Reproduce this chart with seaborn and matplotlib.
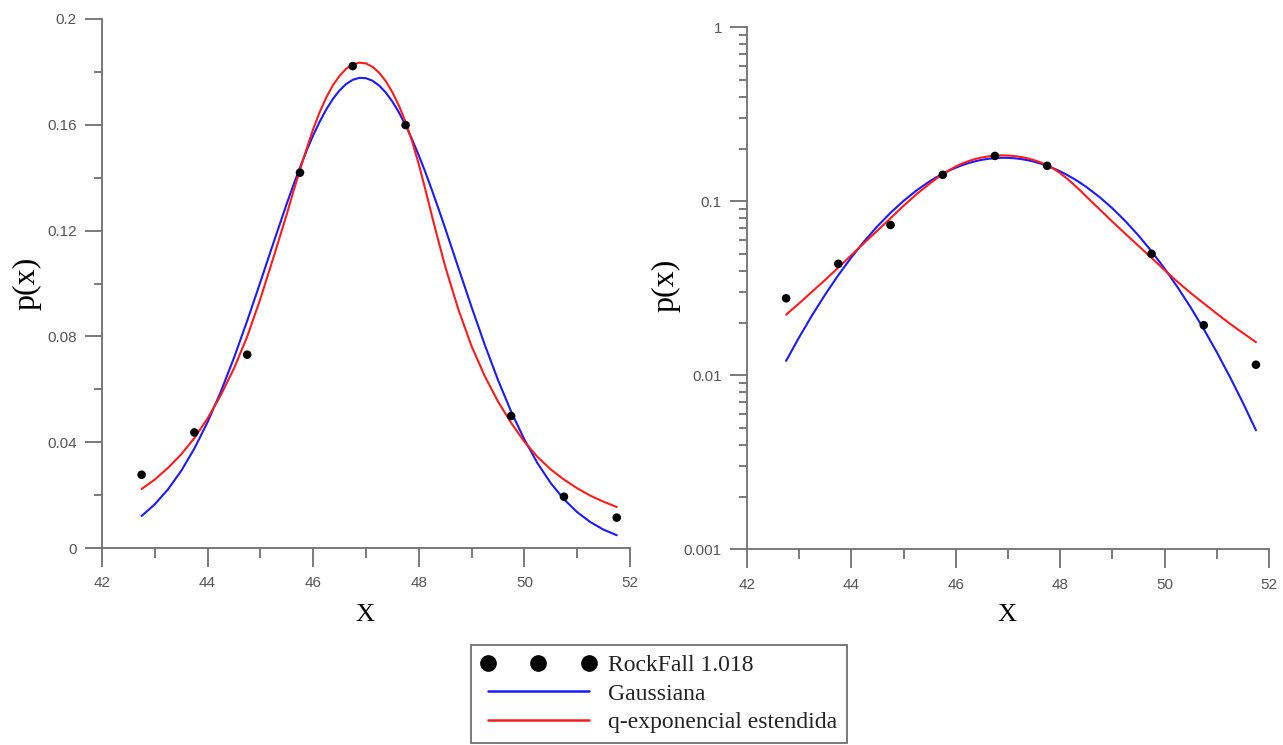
import matplotlib
matplotlib.use("Agg")
import matplotlib.pyplot as plt
from matplotlib.lines import Line2D
from matplotlib.ticker import FixedLocator, FixedFormatter, NullFormatter
import pandas as pd
import seaborn as sns

# Measured distribution (RockFall 1.018)
x_data = [42.75, 43.75, 44.75, 45.75, 46.75, 47.75, 49.75, 50.75, 51.75]
p_data = [0.0277, 0.0437, 0.0731, 0.1419, 0.1822, 0.1599, 0.0499, 0.0194, 0.0115]

# Fitted curves, sampled more densely around the peak
x_fit = [42.75, 43.00, 43.25, 43.50, 43.75, 44.00, 44.25, 44.50, 44.75,
         45.00, 45.25, 45.50, 45.625, 45.75, 45.875, 46.00, 46.125, 46.25,
         46.375, 46.50, 46.625, 46.75, 46.875, 47.00, 47.125, 47.25, 47.375,
         47.50, 47.625, 47.75, 47.875, 48.00, 48.125, 48.25, 48.375, 48.50,
         48.75, 49.00, 49.25, 49.50, 49.75, 50.00, 50.25, 50.50, 50.75,
         51.00, 51.25, 51.50, 51.75]
p_gauss = [0.01210, 0.01654, 0.02218, 0.02916, 0.03762, 0.04760, 0.05908,
           0.07192, 0.08587, 0.10057, 0.11554, 0.13019, 0.13720, 0.14389,
           0.15019, 0.15600, 0.16125, 0.16588, 0.16982, 0.17302, 0.17542,
           0.17701, 0.17774, 0.17762, 0.17665, 0.17483, 0.17220, 0.16879,
           0.16465, 0.15984, 0.15442, 0.14847, 0.14206, 0.13527, 0.12818,
           0.12089, 0.10596, 0.09110, 0.07683, 0.06355, 0.05157, 0.04104,
           0.03203, 0.02453, 0.01842, 0.01357, 0.00980, 0.00695, 0.00483]
p_qexp = [0.0223, 0.0259, 0.0303, 0.0354, 0.0416, 0.0490, 0.0578, 0.0679,
          0.0799, 0.0942, 0.1100, 0.1262, 0.1348, 0.1430, 0.1509, 0.1584,
          0.1649, 0.1704, 0.1750, 0.1785, 0.1812, 0.1828, 0.1835, 0.1832,
          0.1819, 0.1797, 0.1765, 0.1723, 0.1672, 0.1611, 0.1537, 0.1451,
          0.1355, 0.1255, 0.1159, 0.1065, 0.0902, 0.0763, 0.0650, 0.0554,
          0.0473, 0.0402, 0.0344, 0.0297, 0.0259, 0.0226, 0.0198, 0.0175,
          0.0155]

x_ticks = [42, 44, 46, 48, 50, 52]
x_minor = [43, 45, 47, 49, 51]
lin_ticks = [0, 0.04, 0.08, 0.12, 0.16, 0.2]
lin_minor = [0.02, 0.06, 0.10, 0.14, 0.18]
lin_labels = ["0", "0.04", "0.08", "0.12", "0.16", "0.2"]
log_ticks = [0.001, 0.01, 0.1, 1]
log_labels = ["0.001", "0.01", "0.1", "1"]

label_data = "RockFall 1.018"
label_gauss = "Gaussiana"
label_qexp = "q-exponencial estendida"

BLUE = "#1a1aff"
RED = "#ff1a1a"
AXIS = "#707070"
TEXT = "#555555"
SERIF = ["Liberation Serif", "DejaVu Serif"]

sns.set_theme(style="ticks")
plt.rcParams["font.family"] = ["Liberation Sans", "DejaVu Sans"]

points = pd.DataFrame({"x": x_data, "p": p_data})
curves = pd.DataFrame({"x": x_fit, "gauss": p_gauss, "qexp": p_qexp})

fig = plt.figure(figsize=(12.83, 7.45), dpi=100)
ax_lin = fig.add_axes([0.0795, 0.2644, 0.4115, 0.7101])
ax_log = fig.add_axes([0.5822, 0.2627, 0.4069, 0.7007])


def draw(ax):
    sns.lineplot(data=curves, x="x", y="gauss", ax=ax, color=BLUE,
                 linewidth=1.5, sort=False, estimator=None, legend=False)
    sns.lineplot(data=curves, x="x", y="qexp", ax=ax, color=RED,
                 linewidth=1.5, sort=False, estimator=None, legend=False)
    sns.scatterplot(data=points, x="x", y="p", ax=ax, color="black",
                    s=38, edgecolor="none", legend=False, zorder=5)
    ax.set_xlim(42, 52)
    ax.xaxis.set_major_locator(FixedLocator(x_ticks))
    ax.xaxis.set_minor_locator(FixedLocator(x_minor))
    for side in ("top", "right"):
        ax.spines[side].set_visible(False)
    for side in ("left", "bottom"):
        ax.spines[side].set_color(AXIS)
        ax.spines[side].set_linewidth(1.3)
    ax.tick_params(axis="both", which="both", color=AXIS, width=1.3,
                   labelcolor=TEXT, labelsize=11, direction="out")
    ax.tick_params(axis="y", which="major", length=12, pad=6)
    ax.tick_params(axis="y", which="minor", length=6)
    ax.tick_params(axis="x", which="major", length=13.5, pad=7)
    ax.tick_params(axis="x", which="minor", length=7)
    ax.set_xlabel("X", family=SERIF, fontsize=19, color="black")
    ax.set_ylabel("p(x)", family=SERIF, fontsize=23, color="black")
    ax.set_facecolor("white")


draw(ax_lin)
ax_lin.set_ylim(0, 0.2)
ax_lin.yaxis.set_major_locator(FixedLocator(lin_ticks))
ax_lin.yaxis.set_major_formatter(FixedFormatter(lin_labels))
ax_lin.yaxis.set_minor_locator(FixedLocator(lin_minor))
ax_lin.xaxis.set_label_coords(0.498, -0.105)
ax_lin.yaxis.set_label_coords(-0.114, 0.5)

draw(ax_log)
ax_log.set_yscale("log")
ax_log.set_ylim(0.001, 1)
ax_log.yaxis.set_major_locator(FixedLocator(log_ticks))
ax_log.yaxis.set_major_formatter(FixedFormatter(log_labels))
minor_log = [m * 10.0 ** e for e in (-3, -2, -1) for m in range(2, 10)]
ax_log.yaxis.set_minor_locator(FixedLocator(minor_log))
ax_log.yaxis.set_minor_formatter(NullFormatter())
ax_log.xaxis.set_label_coords(0.4975, -0.105)
ax_log.yaxis.set_label_coords(-0.128, 0.506)

handles = [
    Line2D([], [], linestyle="none", marker="o", markersize=11,
           markerfacecolor="black", markeredgecolor="black"),
    Line2D([], [], color=BLUE, linewidth=1.8),
    Line2D([], [], color=RED, linewidth=1.8),
]
leg = fig.legend(handles, [label_data, label_gauss, label_qexp],
                 loc="upper left", bbox_to_anchor=(471 / 1283, 1 - 645 / 745),
                 borderaxespad=0, numpoints=3, handlelength=4.9,
                 handletextpad=0.5, borderpad=0.4, labelspacing=0.3,
                 fancybox=False, framealpha=1, edgecolor=AXIS,
                 prop={"family": SERIF, "size": 17})
leg.get_frame().set_linewidth(1.3)
for t in leg.get_texts():
    t.set_color("#222222")

fig.savefig("out.png", dpi=100, facecolor="white")
